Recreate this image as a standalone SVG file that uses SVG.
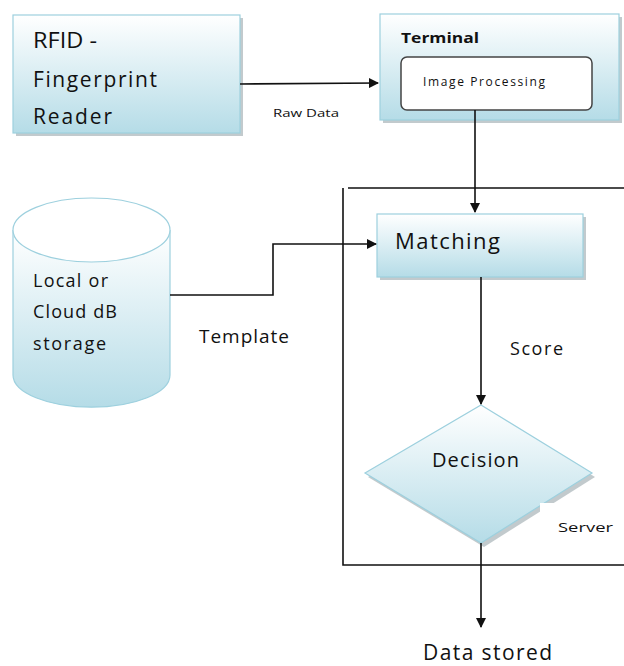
<svg xmlns="http://www.w3.org/2000/svg" width="624" height="666" viewBox="0 0 624 666">
<style>
text{font-family:"Open Sans","DejaVu Sans",sans-serif;fill:#111}
.node{fill:url(#g);stroke:#9dd0de;stroke-width:1.2}
.sh{fill:#9aa6ab;opacity:.6}
.ln{stroke:#111;stroke-width:1.6;fill:none}
</style>
<defs>
<linearGradient id="g" x1="0" y1="0" x2="0" y2="1">
<stop offset="0" stop-color="#ffffff"/><stop offset="1" stop-color="#b5dce7"/>
</linearGradient>
<marker id="a" markerWidth="10" markerHeight="10" refX="9" refY="5" orient="auto" markerUnits="userSpaceOnUse">
<path d="M0,0L10,5L0,10z" fill="#111"/>
</marker>
</defs>
<g id="rfid">
<rect class="sh" x="16" y="18" width="227" height="118"/>
<rect class="node" x="13" y="15" width="227" height="118"/>
<text x="33" y="48" font-size="21" textLength="64" lengthAdjust="spacingAndGlyphs">RFID -</text>
<text x="33" y="87" font-size="21" textLength="124" lengthAdjust="spacing">Fingerprint</text>
<text x="33" y="124" font-size="21" textLength="79" lengthAdjust="spacing">Reader</text>
</g>
<g id="terminal">
<rect class="sh" x="383" y="17" width="239" height="106"/>
<rect class="node" x="380" y="14" width="239" height="106"/>
<text x="401" y="43" font-size="15" font-weight="bold" textLength="78" lengthAdjust="spacingAndGlyphs">Terminal</text>
<rect x="401" y="57" width="191" height="53" rx="6" fill="#fff" stroke="#444" stroke-width="1.5"/>
<text x="423" y="86" font-size="12" textLength="122" lengthAdjust="spacing">Image Processing</text>
</g>
<g id="storage">
<path d="M13,230V375A78,32 0 0 0 170,375V230" fill="url(#g)" stroke="#9dd0de" stroke-width="1.2"/>
<ellipse cx="91.5" cy="230" rx="78.5" ry="32" fill="#fff" stroke="#9dd0de" stroke-width="1.2"/>
<text x="33" y="287" font-size="18" textLength="75" lengthAdjust="spacing">Local or</text>
<text x="33" y="318" font-size="18" textLength="84" lengthAdjust="spacing">Cloud dB</text>
<text x="33" y="350" font-size="18" textLength="73" lengthAdjust="spacing">storage</text>
</g>
<g id="server">
<path class="ln" d="M343,188V565H624M348,188H624"/>
</g>
<g id="matching">
<rect class="sh" x="380" y="217" width="206" height="63"/>
<rect class="node" x="377" y="214" width="206" height="63"/>
<text x="395" y="249" font-size="22" textLength="105" lengthAdjust="spacing">Matching</text>
</g>
<g id="decision">
<path class="sh" d="M484,409L595,477L484,547L368,477z"/>
<path class="node" d="M481,405L592,473L481,543L365,473z"/>
<rect x="540" y="503" width="84" height="42" fill="#fff"/>
<text x="558" y="532" font-size="13" textLength="55" lengthAdjust="spacingAndGlyphs">Server</text>
<text x="432" y="467" font-size="20" textLength="87" lengthAdjust="spacing">Decision</text>
</g>
<g id="connectors">
<path class="ln" d="M240,84L378,83" marker-end="url(#a)"/>
<text x="273" y="117" font-size="11" textLength="66" lengthAdjust="spacingAndGlyphs">Raw Data</text>
<path class="ln" d="M475,110V212" marker-end="url(#a)"/>
<path class="ln" d="M170,295H273V244H376" marker-end="url(#a)"/>
<text x="199" y="343" font-size="19" textLength="90" lengthAdjust="spacing">Template</text>
<path class="ln" d="M481,277V404" marker-end="url(#a)"/>
<text x="510" y="355" font-size="18" textLength="53" lengthAdjust="spacing">Score</text>
<path class="ln" d="M481,543V627" marker-end="url(#a)"/>
<text x="423" y="660" font-size="21" textLength="129" lengthAdjust="spacing">Data stored</text>
</g>
</svg>
